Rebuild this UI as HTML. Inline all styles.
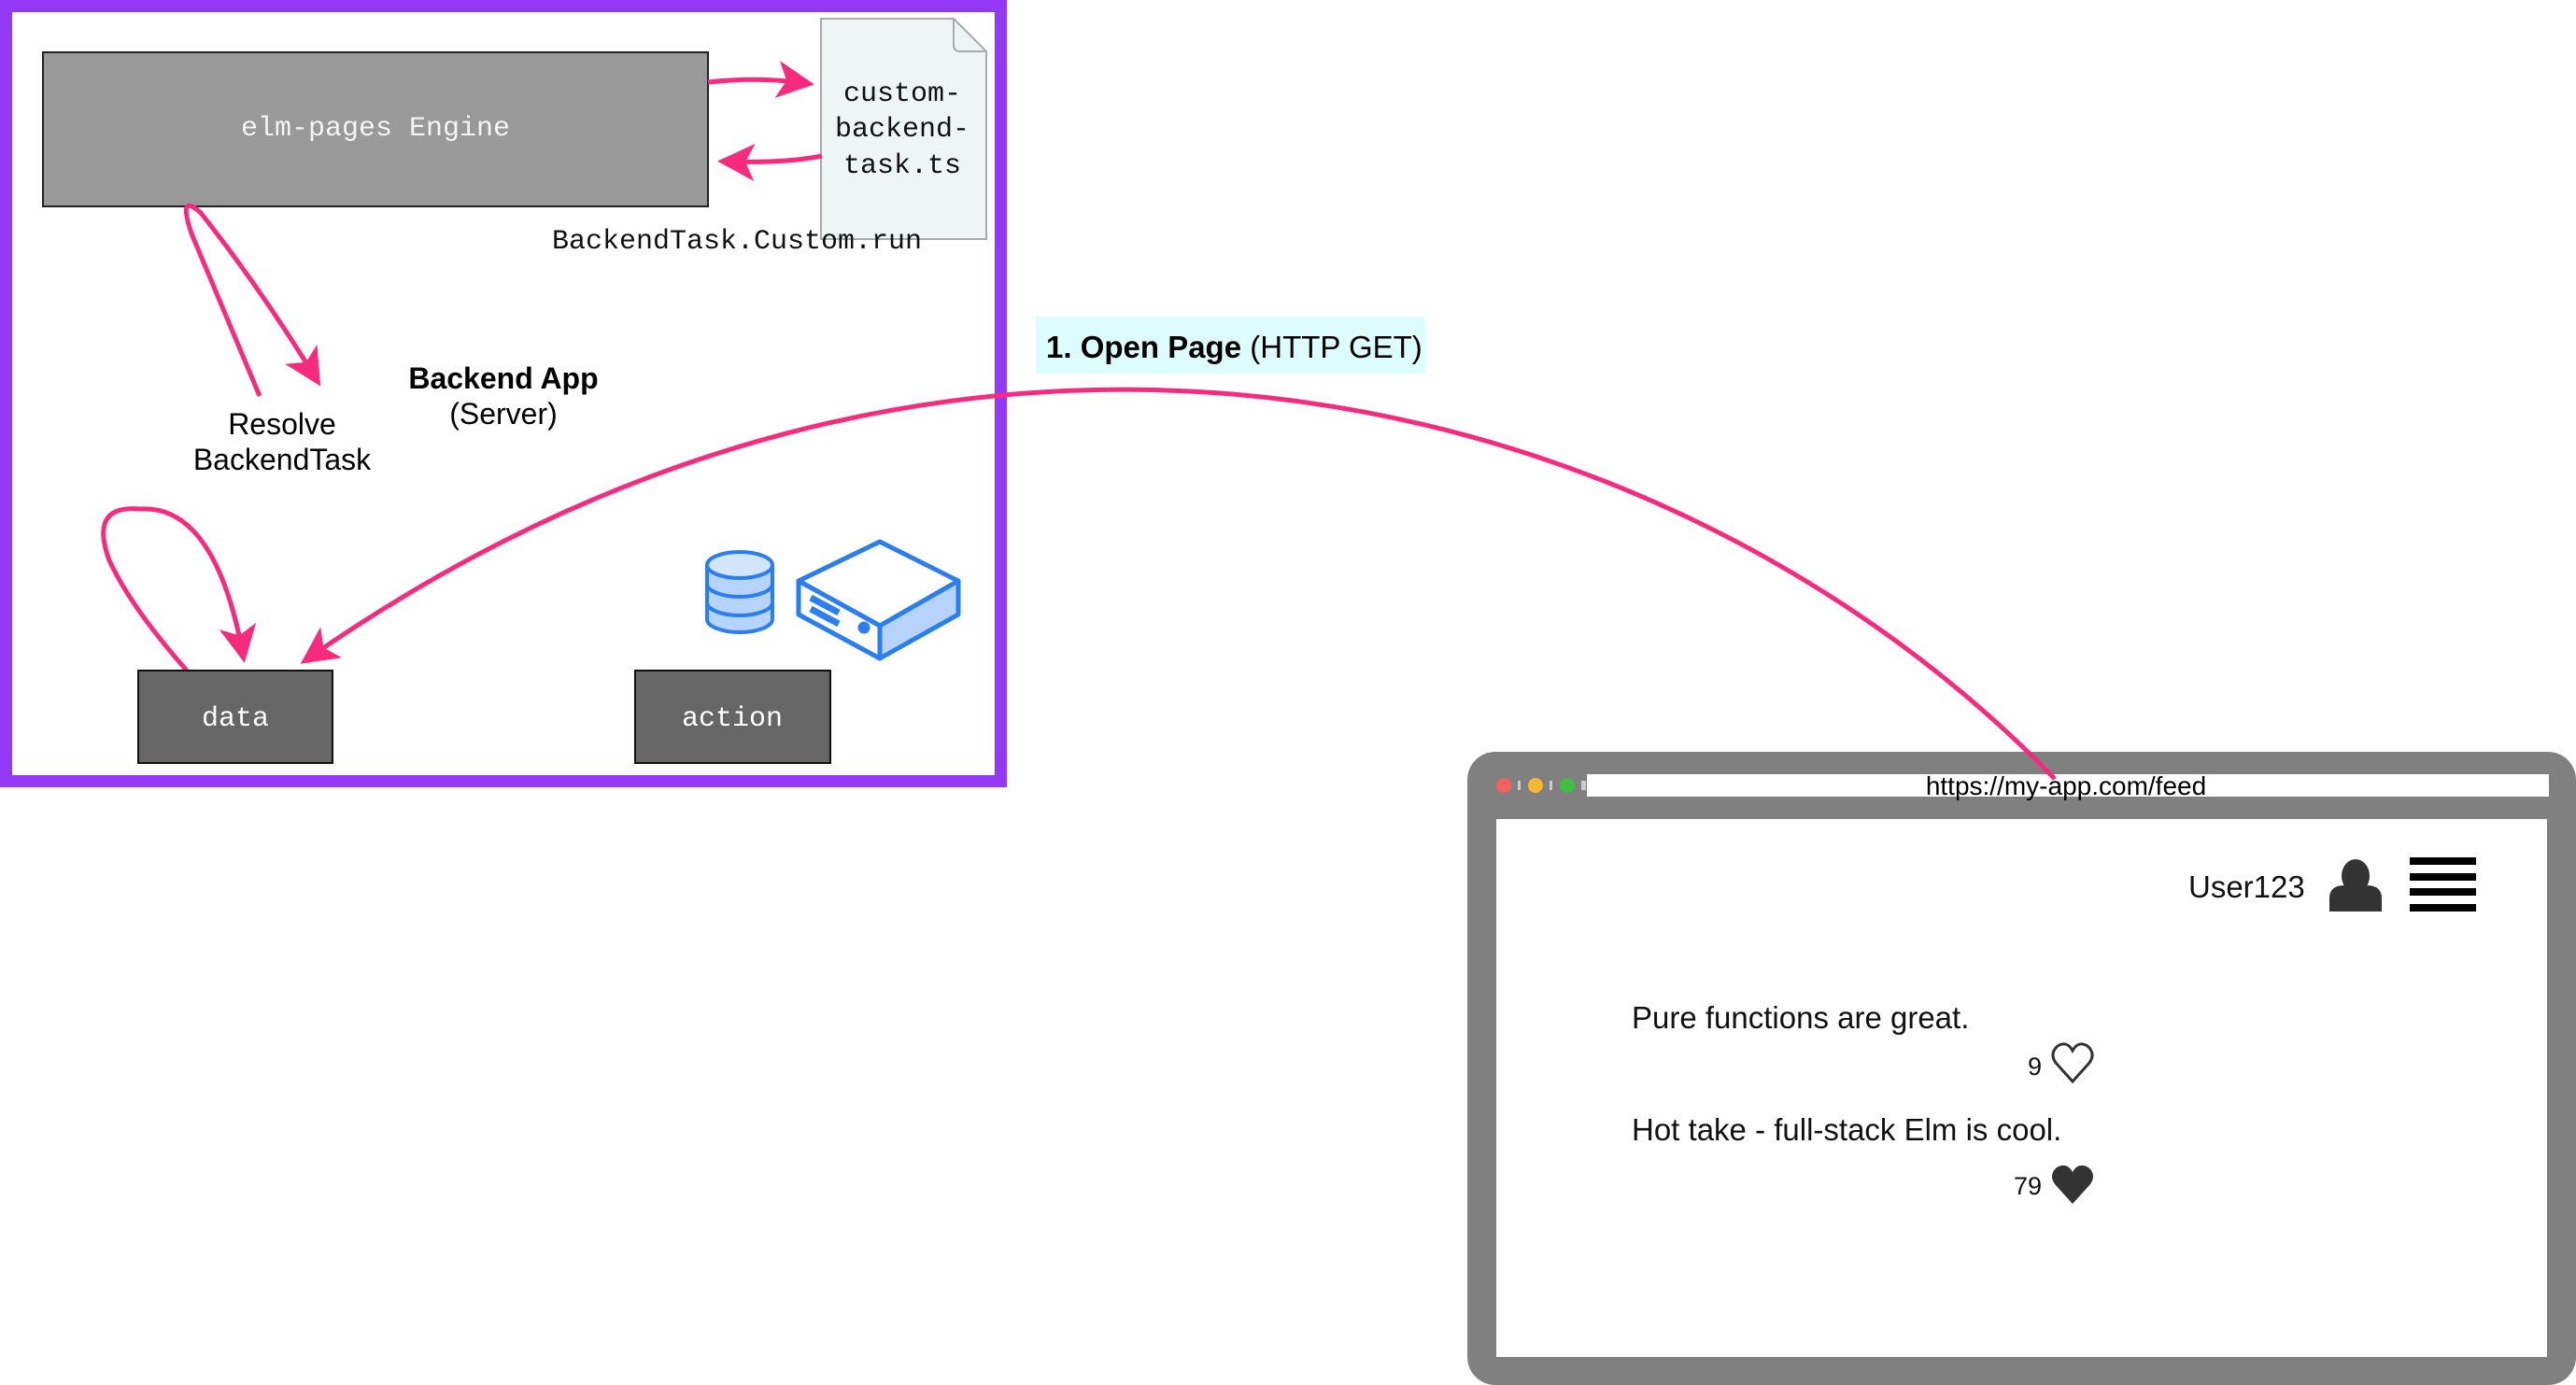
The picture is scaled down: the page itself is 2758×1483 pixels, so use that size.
<!DOCTYPE html>
<html><head><meta charset="utf-8"><style>
html,body{margin:0;padding:0;background:#fff;}
svg{display:block;}
.mono{font-family:"Liberation Mono","DejaVu Sans Mono",monospace;}
.sans{font-family:"Liberation Sans",Arial,sans-serif;}
</style></head><body>
<svg width="2758" height="1483" viewBox="0 0 2758 1483" xmlns="http://www.w3.org/2000/svg">
<defs>
<marker id="ah" markerWidth="8" markerHeight="8" refX="6" refY="4" orient="auto" markerUnits="strokeWidth">
<path d="M0,0 L8,4 L0,8 L2,4 Z" fill="#f72a7e"/>
</marker>
</defs>
<rect x="6.5" y="6.5" width="1065" height="830" fill="none" stroke="#9438f7" stroke-width="13"/>
<rect x="46" y="56" width="712" height="165" fill="#999" stroke="#222" stroke-width="2"/>
<text x="402" y="145" class="mono" font-size="30" fill="#f4f4f4" text-anchor="middle">elm-pages Engine</text>
<path d="M879,20 L1021,20 L1056,55 L1056,256 L879,256 Z" fill="#eef6f5" stroke="#aaa" stroke-width="2"/>
<path d="M1021,20 L1021,48 Q1021,55 1028,55 L1056,55" fill="none" stroke="#aaa" stroke-width="2"/>
<text class="mono" font-size="30" fill="#111" text-anchor="middle"><tspan x="966" y="108">custom-</tspan><tspan x="966" y="146">backend-</tspan><tspan x="966" y="185">task.ts</tspan></text>
<text x="591" y="266" class="mono" font-size="30" fill="#111">BackendTask.Custom.run</text>
<path d="M758,88 Q810,82 862,89" fill="none" stroke="#f72a7e" stroke-width="5" marker-end="url(#ah)"/>
<path d="M880,167 Q840,175 778,173" fill="none" stroke="#f72a7e" stroke-width="5" marker-end="url(#ah)"/>
<path d="M278,424 L205,250 Q190,205 215,228 Q280,310 338,405" fill="none" stroke="#f72a7e" stroke-width="5" marker-end="url(#ah)"/>
<text class="sans" font-size="32" fill="#000" text-anchor="middle"><tspan x="302" y="465">Resolve</tspan><tspan x="302" y="503">BackendTask</tspan></text>
<text x="539" y="416" class="sans" font-size="32" font-weight="bold" fill="#000" text-anchor="middle">Backend App</text>
<text x="539" y="454" class="sans" font-size="32" fill="#000" text-anchor="middle">(Server)</text>
<path d="M200,718 Q140,650 117,600 Q95,540 150,545 Q230,540 260,700" fill="none" stroke="#f72a7e" stroke-width="5" marker-end="url(#ah)"/>
<rect x="148" y="718" width="208" height="99" fill="#666" stroke="#111" stroke-width="2"/>
<text x="252" y="777" class="mono" font-size="30" fill="#fff" text-anchor="middle">data</text>
<rect x="680" y="718" width="209" height="99" fill="#666" stroke="#111" stroke-width="2"/>
<text x="784" y="777" class="mono" font-size="30" fill="#fff" text-anchor="middle">action</text>
<g stroke="#2a7ef0" stroke-width="4" fill="#b5d3fb">
<path d="M757,605 L757,663 A35,14 0 0 0 827,663 L827,605"/>
<ellipse cx="792" cy="605" rx="35" ry="14" fill="#d3e5fc"/>
<path d="M757,625 A35,14 0 0 0 827,625 M757,645 A35,14 0 0 0 827,645" fill="none"/>
</g>
<g stroke="#2a7ef0" stroke-width="5" stroke-linejoin="round">
<path d="M855,622 L942,580 L1026,622 L942,670 Z" fill="#fff"/>
<path d="M855,622 L942,670 L942,705 L855,658 Z" fill="#fff"/>
<path d="M942,670 L1026,622 L1026,658 L942,705 Z" fill="#b5d3fb"/>
<path d="M868,640 L898,656 M868,652 L898,668" stroke-width="7"/>
<circle cx="925" cy="672" r="4" fill="#2a7ef0"/>
</g>
<rect x="1109" y="339" width="417" height="61" fill="#dcfcfd"/>
<text x="1120" y="383" class="sans" font-size="33" fill="#000"><tspan font-weight="bold">1. Open Page</tspan> (HTTP GET)</text>
<rect x="1571" y="805" width="1187" height="678" rx="30" fill="#808080"/>
<rect x="1602" y="877" width="1125" height="576" fill="#fff"/>
<rect x="1699" y="829" width="1030" height="24" fill="#fff"/>
<circle cx="1610" cy="841" r="8" fill="#f4615a"/>
<circle cx="1644" cy="841" r="8" fill="#f9b730"/>
<circle cx="1678" cy="841" r="8" fill="#3ec13f"/>
<rect x="1625" y="836" width="3" height="10" fill="#ccc"/><rect x="1659" y="836" width="3" height="10" fill="#ccc"/><rect x="1693" y="836" width="5" height="10" fill="#ccc"/>
<text x="2212" y="851" class="sans" font-size="28" fill="#000" text-anchor="middle">https://my-app.com/feed</text>
<text x="2343" y="961" class="sans" font-size="33" fill="#111">User123</text>
<g fill="#333">
<ellipse cx="2522" cy="938" rx="15" ry="18"/>
<path d="M2494,976 L2494,962 Q2494,948 2510,948 L2534,948 Q2550,948 2550,962 L2550,976 Z"/>
</g>
<g fill="#000">
<rect x="2580" y="918" width="71" height="8"/><rect x="2580" y="935" width="71" height="8"/><rect x="2580" y="951" width="71" height="8"/><rect x="2580" y="968" width="71" height="8"/>
</g>
<text x="1747" y="1101" class="sans" font-size="33" fill="#111">Pure functions are great.</text>
<text x="2171" y="1151" class="sans" font-size="27" fill="#111">9</text>
<path d="M2219,1158 L2201,1138 Q2194,1128 2203,1120 Q2213,1114 2219,1125 Q2225,1114 2235,1120 Q2244,1128 2237,1138 Z" fill="none" stroke="#333" stroke-width="3"/>
<text x="1747" y="1221" class="sans" font-size="33" fill="#111">Hot take - full-stack Elm is cool.</text>
<text x="2156" y="1279" class="sans" font-size="27" fill="#111">79</text>
<path d="M2219,1289 L2200,1268 Q2193,1258 2202,1250 Q2213,1244 2219,1255 Q2225,1244 2236,1250 Q2245,1258 2238,1268 Z" fill="#333"/>
<path d="M2200,834 C1800,420 1040,210 330,705" fill="none" stroke="#f72a7e" stroke-width="5" marker-end="url(#ah)"/>
</svg>
</body></html>
